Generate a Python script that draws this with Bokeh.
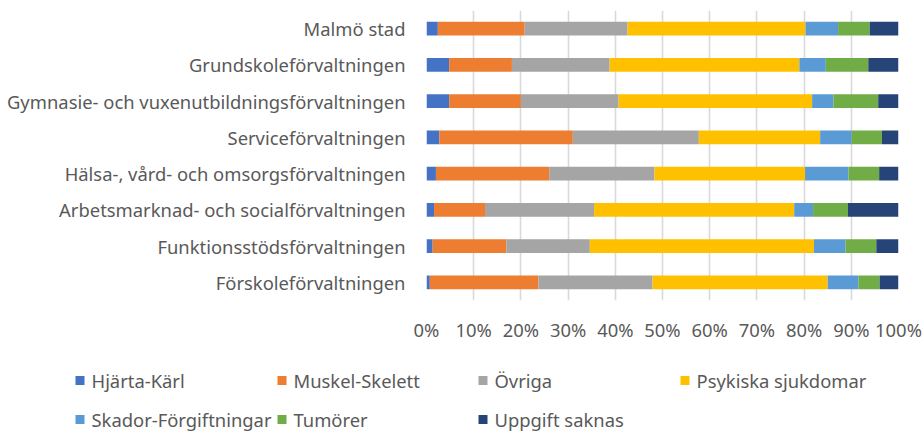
from bokeh.plotting import figure
from bokeh.models import FactorRange, Range1d, FixedTicker, ColumnDataSource
from bokeh.layouts import column
from bokeh.core.properties import value
from bokeh.embed import file_html
from bokeh.resources import INLINE

# ---- data ----
categories = [
    "Malmö stad",
    "Grundskoleförvaltningen",
    "Gymnasie- och vuxenutbildningsförvaltningen",
    "Serviceförvaltningen",
    "Hälsa-, vård- och omsorgsförvaltningen",
    "Arbetsmarknad- och socialförvaltningen",
    "Funktionsstödsförvaltningen",
    "Förskoleförvaltningen",
]
series_names = ["Hjärta-Kärl", "Muskel-Skelett", "Övriga", "Psykiska sjukdomar",
                "Skador-Förgiftningar", "Tumörer", "Uppgift saknas"]
hjarta_karl = [2.4, 4.8, 4.8, 2.7, 2.0, 1.6, 1.3, 0.7]
muskel_skelett = [18.4, 13.3, 15.2, 28.3, 24.0, 10.8, 15.6, 23.0]
ovriga = [21.8, 20.7, 20.7, 26.7, 22.3, 23.1, 17.7, 24.2]
psykiska = [37.7, 40.2, 41.0, 25.7, 31.9, 42.4, 47.5, 37.1]
skador = [6.9, 5.6, 4.5, 6.7, 9.2, 4.0, 6.7, 6.5]
tumorer = [6.7, 9.0, 9.5, 6.4, 6.5, 7.4, 6.5, 4.5]
uppgift_saknas = [6.1, 6.4, 4.3, 3.5, 4.1, 10.7, 4.7, 4.0]
tick_values = [0, 10, 20, 30, 40, 50, 60, 70, 80, 90, 100]
tick_labels = ["0%", "10%", "20%", "30%", "40%", "50%", "60%", "70%", "80%", "90%", "100%"]

colors = ["#4472C4", "#ED7D31", "#A5A5A5", "#FFC000", "#5B9BD5", "#70AD47", "#264478"]
keys = ["s0", "s1", "s2", "s3", "s4", "s5", "s6"]
series_values = [hjarta_karl, muskel_skelett, ovriga, psykiska, skador, tumorer, uppgift_saknas]

FONT = "Noto Sans"
TXT = "#595959"
FS = "18.4px"

src = ColumnDataSource(dict(cat=categories, **{k: v for k, v in zip(keys, series_values)}))

p = figure(width=922, height=344, y_range=FactorRange(factors=categories[::-1]),
           x_range=Range1d(0, 100), output_backend="svg", toolbar_location=None,
           min_border_left=426, min_border_right=24, min_border_top=10, min_border_bottom=42)
p.frame_align = False
p.hbar_stack(keys, y="cat", height=0.38, color=colors, source=src, line_color=None)

ticker = FixedTicker(ticks=tick_values)
p.outline_line_color = None
p.ygrid.grid_line_color = None
p.xaxis.ticker = ticker
p.xgrid.ticker = ticker
p.xgrid.grid_line_color = "#D9D9D9"
p.xgrid.grid_line_width = 1.6
p.xaxis.major_label_overrides = {t: l for t, l in zip(tick_values, tick_labels)}
for ax in (p.xaxis[0], p.yaxis[0]):
    ax.axis_line_color = None
    ax.major_tick_line_color = None
    ax.minor_tick_line_color = None
    ax.major_tick_out = 0
    ax.major_tick_in = 0
    ax.minor_tick_out = 0
    ax.major_label_text_font = FONT
    ax.major_label_text_font_size = FS
    ax.major_label_text_color = TXT
p.xaxis.major_label_standoff = 16
p.yaxis.major_label_standoff = 21

# ---- legend drawn in a strip below ----
leg_x = [75, 277, 478, 680, 75, 277, 478]
leg_y = [36, 36, 36, 36, 75, 75, 75]
lsrc = ColumnDataSource(dict(x=[v + 4.5 for v in leg_x], tx=[v + 16 for v in leg_x],
                             y=leg_y, label=series_names, color=colors))
lg = figure(width=922, height=87, x_range=Range1d(0, 922), y_range=Range1d(87, 0),
            output_backend="svg", toolbar_location=None, min_border=0,
            x_axis_type=None, y_axis_type=None)
lg.frame_align = False
lg.scatter("x", "y", source=lsrc, marker="square", size=9, color="color", line_color=None)
lg.text("tx", "y", text="label", source=lsrc, text_font=value(FONT), text_font_size=FS,
        text_color=TXT, text_baseline="middle", text_align="left")
lg.grid.grid_line_color = None
lg.outline_line_color = None

layout = column(p, lg, spacing=0)
open("out.html", "w").write(file_html(layout, INLINE))
